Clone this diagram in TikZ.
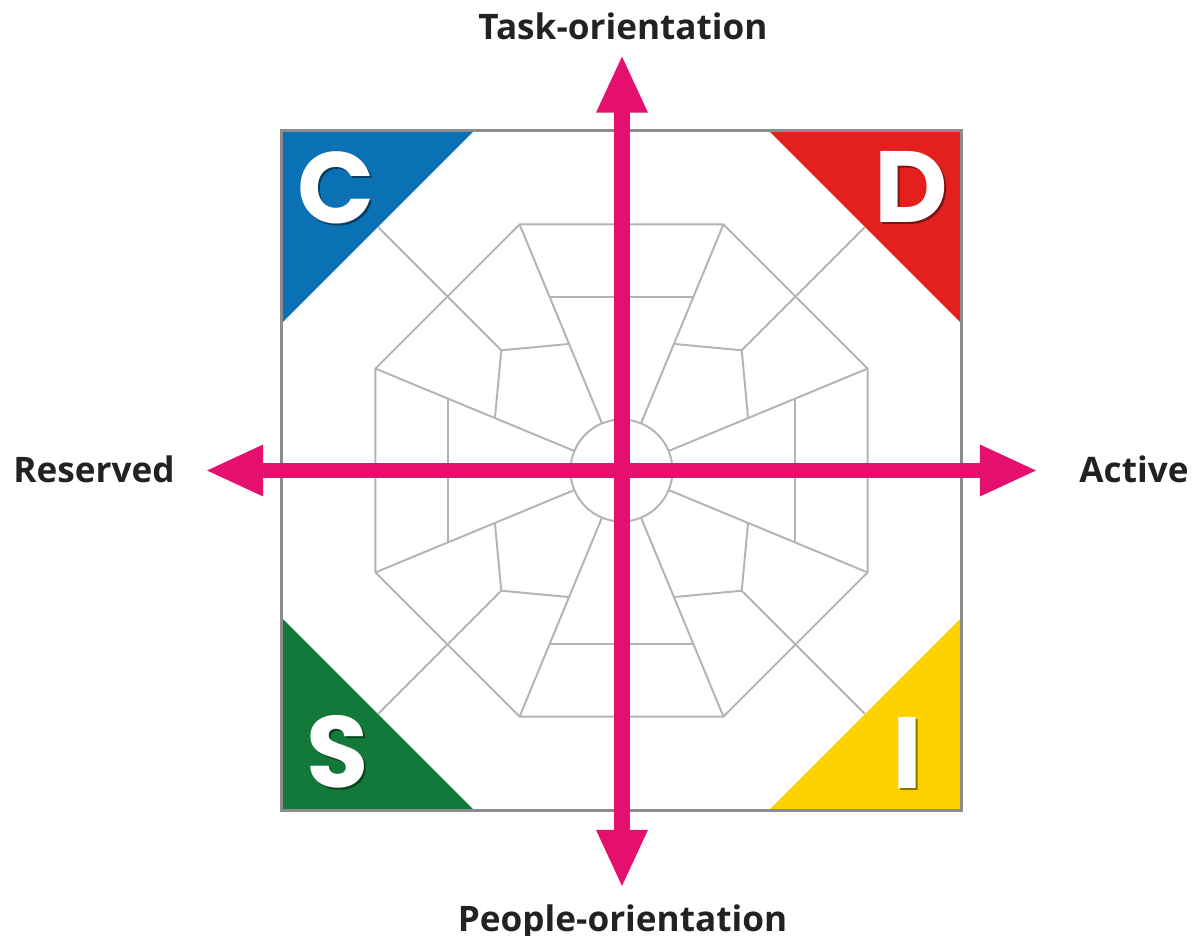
\documentclass[tikz,border=0pt]{standalone}
\usepackage{fontspec}
\setmainfont{Open Sans}
\newfontfamily\letterfont{Poppins}
\usetikzlibrary{arrows.meta}
\definecolor{discblue}{HTML}{0A72B4}
\definecolor{discred}{HTML}{E4201E}
\definecolor{discgreen}{HTML}{13793A}
\definecolor{discyellow}{HTML}{FDD000}
\definecolor{axispink}{HTML}{E5106E}
\definecolor{webgray}{HTML}{B4B4B4}
\definecolor{framegray}{HTML}{8C8C8C}
\definecolor{labelink}{HTML}{222222}
\tikzset{%
  webline/.style    = {draw=webgray, line width=1.4pt},%
  squareframe/.style = {draw=framegray, line width=1.7pt},%
  axisarrow/.style  = {draw=axispink, line width=0.375cm,%
                       {Triangle[length=1.45cm,width=1.175cm]}-{Triangle[length=1.45cm,width=1.175cm]}},%
  axislabel/.style  = {font=\fontsize{25pt}{25pt}\selectfont\bfseries, text=labelink, inner sep=0pt},%
  cornerletter/.style = {font=\letterfont\fontsize{72pt}{72pt}\selectfont\bfseries, text=white, inner sep=0pt},%
  lettershadow/.style = {cornerletter, text=#1}%
}

\begin{document}
\begin{tikzpicture}[x=0.025cm,y=0.025cm]
	\useasboundingbox (-621.5,-464.5) rectangle (580.5,470.5);
	% corner triangles
	\fill[discblue]   (-340,340) -- ++(193,0) -- ++(-193,-193) -- cycle;
	\fill[discred]    (340,340) -- ++(-193,0) -- ++(193,-193) -- cycle;
	\fill[discgreen]  (-340,-340) -- ++(193,0) -- ++(-193,193) -- cycle;
	\fill[discyellow] (340,-340) -- ++(-193,0) -- ++(193,193) -- cycle;
	\draw[squareframe] (-340,-340) rectangle (340,340);
	% octagon web
	\draw[webline] (22.5:266.3) \foreach \k in {1,...,7}{-- (22.5+45*\k:266.3)} -- cycle;
	\draw[webline] (0,0) circle (51);
	\foreach \a in {0,90,180,270}{%
		\draw[webline] (\a+22.5:51) -- (\a+22.5:266.3);
		\draw[webline] (\a+67.5:51) -- (\a+67.5:266.3);
		\draw[webline] (\a-22.5:187.3) -- (\a+22.5:187.3);
		\draw[webline] (\a+45:344) -- (\a+45:170);
		\draw[webline] (\a+22.5:137) -- (\a+45:170) -- (\a+67.5:137);
	}
	% letters
	\node[lettershadow=discblue!55!black] (Cshadow) at (-283,281) {C};
	\node[cornerletter] (C) at (-285,283) {C};
	\node[lettershadow=discred!55!black] (Dshadow) at (291.5,281.5) {D};
	\node[cornerletter] (D) at (289.5,283.5) {D};
	\node[lettershadow=discgreen!55!black] (Sshadow) at (-281.5,-283.5) {S};
	\node[cornerletter] (S) at (-283.5,-281.5) {S};
	\node[lettershadow=discyellow!55!black] (Ishadow) at (287.5,-284) {I};
	\node[cornerletter] (I) at (285.5,-282) {I};
	% axes
	\coordinate (top)    at (0.5,416);
	\coordinate (bottom) at (0.5,-417.5);
	\coordinate (left)   at (-416.5,0);
	\coordinate (right)  at (416.5,0);
	\draw[axisarrow] (left) -- (right);
	\draw[axisarrow] (bottom) -- (top);
	\node[axislabel, anchor=base] (task)     at (1.5,430.5)    {Task-orientation};
	\node[axislabel, anchor=base] (people)   at (1,-460.5)     {People-orientation};
	\node[axislabel, anchor=base] (reserved) at (-527.5,-11.5) {Reserved};
	\node[axislabel, anchor=base] (active)   at (512.5,-11.5)  {Active};
\end{tikzpicture}
\end{document}
